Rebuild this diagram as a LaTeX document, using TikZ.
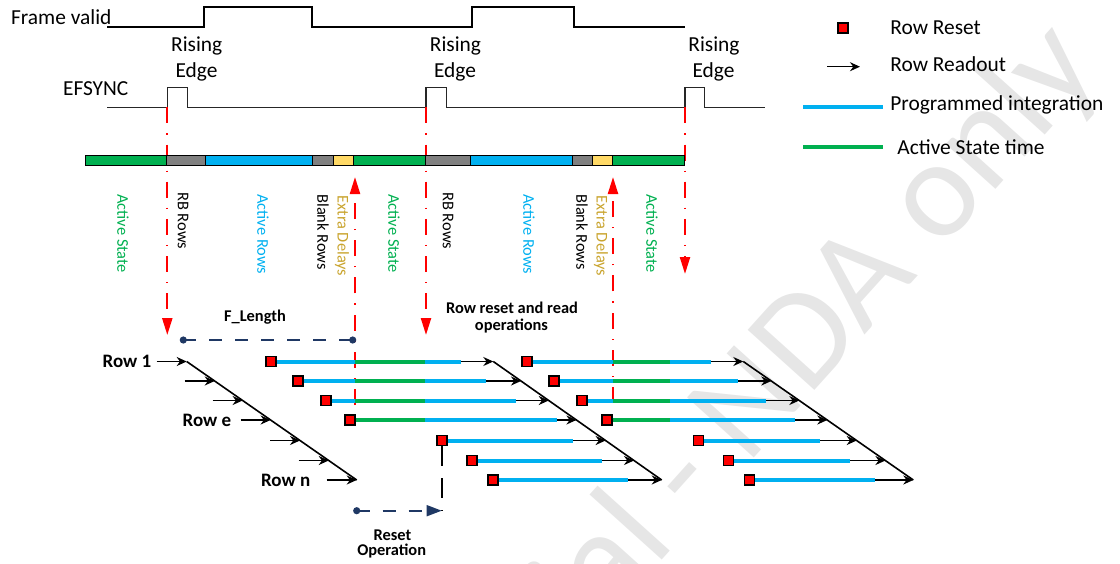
\documentclass[tikz,border=0pt]{standalone}
\usepackage{fontspec}
\setmainfont{Carlito}
\usetikzlibrary{arrows.meta,positioning}

\definecolor{actgreen}{HTML}{00B050}
\definecolor{intblue}{HTML}{00B0F0}
\definecolor{rbgray}{HTML}{808080}
\definecolor{delayyellow}{HTML}{FFD966}
\definecolor{delaytext}{HTML}{C9A42E}
\definecolor{navy}{HTML}{1F3864}
\definecolor{wmgray}{HTML}{E6E6E6}

\tikzset{
  sig/.style={line width=1pt},
  efsig/.style={line width=0.7pt, black!85},
  seg/.style={draw=black, line width=0.4pt},
  redline/.style={red, line width=1.1pt, dash pattern=on 8pt off 5pt on 0.6pt off 5pt,
    -{Triangle[length=8.5pt,width=5pt]}},
  vlabel/.style={rotate=-90, anchor=west, inner sep=0pt, font=\fontsize{8.2}{9}\selectfont},
  rst/.style={draw=black, fill=red, line width=0.8pt, minimum size=5pt, inner sep=0pt},
  integ/.style={intblue, line width=2pt},
  active/.style={actgreen, line width=2pt},
  rdout/.style={line width=0.7pt, -{Stealth[length=5pt,width=4.5pt]}},
  stair/.style={line width=0.8pt},
  txt/.style={font=\fontsize{10.7}{12}\selectfont, inner sep=0pt},
  boldlab/.style={font=\bfseries\fontsize{8.2}{9.5}\selectfont, inner sep=0pt},
  rowlab/.style={font=\bfseries\fontsize{9.5}{11}\selectfont, inner sep=0pt},
  navydash/.style={navy, line width=0.8pt, dash pattern=on 6.5pt off 6.5pt},
}

\begin{document}
\begin{tikzpicture}[x=0.5pt,y=-0.5pt]
  \useasboundingbox (0,0) rectangle (1120,563);
  % watermark
  \begin{scope}
    \clip (0,0) rectangle (1120,563);
    \node[text=wmgray, font=\fontsize{70}{70}\selectfont, rotate=48] (wm) at (632,538) {Confidential - NDA only};
  \end{scope}

  % signals
  \node[txt, anchor=base west] (fv) at (10.7,24) {Frame valid};
  \draw[sig] (107,27.3) -- (204.3,27.3) -- (204.3,7.3) -- (312.3,7.3) -- (312.3,27.3)
    -- (472.3,27.3) -- (472.3,7.3) -- (574.3,7.3) -- (574.3,27.3) -- (685.3,27.3);
  \node[txt, anchor=base west] (efs) at (62.7,95) {EFSYNC};
  \draw[efsig] (107,107.3) -- (167.3,107.3) -- (167.3,87.3) -- (187.3,87.3) -- (187.3,107.3)
    -- (426,107.3) -- (426,87.3) -- (446.7,87.3) -- (446.7,107.3)
    -- (685,107.3) -- (685,87.3) -- (704.3,87.3) -- (704.3,107.3) -- (765,107.3);
  \coordinate (ef1) at (167.3,107.3);
  \coordinate (ef2) at (426,107.3);
  \coordinate (ef3) at (685,107.3);
  \node[txt, anchor=base] (ris1) at (196.7,51.7) {Rising};
  \node[txt, anchor=base] (edg1) at (196.5,77.3) {Edge};
  \node[txt, anchor=base] (ris2) at (455.5,51.7) {Rising};
  \node[txt, anchor=base] (edg2) at (455,77.3) {Edge};
  \node[txt, anchor=base] (ris3) at (714,51.7) {Rising};
  \node[txt, anchor=base] (edg3) at (713.5,77.3) {Edge};

  % red markers
  \coordinate (fr1) at (167.3,335);
  \coordinate (fr2) at (426,335);
  \coordinate (fr3) at (685,274);
  \draw[redline] (ef1) -- (fr1);
  \draw[redline] (ef2) -- (fr2);
  \draw[redline] (ef3) -- (fr3);
  \coordinate (xd1) at (355,405);
  \coordinate (xd2) at (613,403);
  \draw[redline] (xd1) -- (355,177);
  \draw[redline] (xd2) -- (613,177);

  % frame bar
  \filldraw[seg, fill=actgreen] (85.7,155.7) rectangle (166,165.7);
  \filldraw[seg, fill=rbgray] (166,155.7) rectangle (205,165.7);
  \filldraw[seg, fill=intblue] (205,155.7) rectangle (312.3,165.7);
  \filldraw[seg, fill=rbgray] (312.3,155.7) rectangle (333.3,165.7);
  \filldraw[seg, fill=delayyellow] (333.3,155.7) rectangle (353.3,165.7);
  \filldraw[seg, fill=actgreen] (353.3,155.7) rectangle (425.7,165.7);
  \filldraw[seg, fill=rbgray] (425.7,155.7) rectangle (470,165.7);
  \filldraw[seg, fill=intblue] (470,155.7) rectangle (572.7,165.7);
  \filldraw[seg, fill=rbgray] (572.7,155.7) rectangle (592.3,165.7);
  \filldraw[seg, fill=delayyellow] (592.3,155.7) rectangle (612.3,165.7);
  \filldraw[seg, fill=actgreen] (612.3,155.7) rectangle (684,165.7);

  \node[vlabel, text=actgreen] (as1) at (123,194) {Active State};
  \node[vlabel] (rb1) at (183,192) {RB Rows};
  \node[vlabel, text=intblue] (ar1) at (263,194) {Active Rows};
  \node[vlabel] (bl1) at (323,194) {Blank Rows};
  \node[vlabel, text=delaytext] (ex1) at (342,195) {Extra Delays};
  \node[vlabel, text=actgreen] (as2) at (394,194) {Active State};
  \node[vlabel] (rb2) at (448,192) {RB Rows};
  \node[vlabel, text=intblue] (ar2) at (529,194) {Active Rows};
  \node[vlabel] (bl2) at (582,194) {Blank Rows};
  \node[vlabel, text=delaytext] (ex2) at (601,195) {Extra Delays};
  \node[vlabel, text=actgreen] (as3) at (652,194) {Active State};

  % legend
  \node[rst] (lgrst) at (843,27.7) {};
  \node[txt, anchor=base west] (lgrsttxt) at (890,34.3) {Row Reset};
  \coordinate (lgro1) at (827,66.7);
  \coordinate (lgro2) at (860,66.7);
  \draw[rdout] (lgro1) -- (lgro2);
  \node[txt, anchor=base west] (lgrotxt) at (890,71.7) {Row Readout};
  \draw[integ] (803,106.7) -- (883,106.7);
  \node[txt, anchor=base west] (lginttxt) at (890,110) {Programmed integration};
  \draw[active] (803,146.7) -- (883,146.7);
  \node[txt, anchor=base west] (lgacttxt) at (897,154) {Active State time};

  % F_Length
  \coordinate (fl1) at (183.3,340);
  \coordinate (fl2) at (352.7,340);
  \draw[navydash] (fl1) -- (fl2);
  \fill[navy] (fl1) circle (1.8pt);
  \fill[navy] (fl2) circle (1.8pt);
  \node[boldlab, anchor=base] (flen) at (255,321.7) {F\_Length};
  \node[boldlab, anchor=base] (rro1) at (512,313.3) {Row reset and read};
  \node[boldlab, anchor=base] (rro2) at (511.5,330) {operations};

  % readout stair
  \coordinate (lt1) at (186.7,361.5);
  \coordinate (lt7) at (356.7,480);
  \draw[stair] (lt1) -- (lt7);
  \coordinate (ls1) at (156.7,361.5);
  \coordinate (ls4) at (240.6,420);
  \coordinate (ls7) at (326.7,480);
  \node[rowlab, left=2.5pt of ls1] (row1) {Row 1};
  \node[rowlab, left=4.5pt of ls4] (rowe) {Row e};
  \node[rowlab, left=8pt of ls7] (rown) {Row n};
  \draw[rdout] (ls1) -- (lt1);
  \draw[rdout] (184.7,381) -- (214.7,381);
  \draw[rdout] (212.6,400.5) -- (242.6,400.5);
  \draw[rdout] (ls4) -- (270.6,420);
  \draw[rdout] (270,440.5) -- (300,440.5);
  \draw[rdout] (298.7,460.5) -- (328.7,460.5);
  \draw[rdout] (ls7) -- (lt7);

  % first frame rows
  \node[rst] (ga1) at (270.7,361.5) {};
  \node[rst] (ga2) at (297.7,381) {};
  \node[rst] (ga3) at (325.7,400.5) {};
  \node[rst] (ga4) at (350,420) {};
  \node[rst] (ga5) at (441.7,440.5) {};
  \node[rst] (ga6) at (471.7,460.5) {};
  \node[rst] (ga7) at (492.7,480) {};
  \coordinate (ta1) at (493.3,361.5);
  \coordinate (ta2) at (521,381);
  \coordinate (ta3) at (548.7,400.5);
  \coordinate (ta4) at (576.4,420);
  \coordinate (ta5) at (605.6,440.5);
  \coordinate (ta6) at (634,460.5);
  \coordinate (ta7) at (661.7,480);
  \draw[integ] (ga1.east) -- (460.7,361.5);
  \draw[integ] (ga2.east) -- (485.7,381);
  \draw[integ] (ga3.east) -- (515.7,400.5);
  \draw[integ] (ga4.east) -- (556.7,420);
  \draw[integ] (ga5.east) -- (573,440.5);
  \draw[integ] (ga6.east) -- (601.7,460.5);
  \draw[integ] (ga7.east) -- (628,480);
  \draw[active] (355.3,361.5) -- (425,361.5);
  \draw[active] (355.3,381) -- (425,381);
  \draw[active] (355.3,400.5) -- (425,400.5);
  \draw[active] (ga4.east) -- (425,420);
  \draw[rdout] (460.7,361.5) -- (ta1);
  \draw[rdout] (485.7,381) -- (ta2);
  \draw[rdout] (515.7,400.5) -- (ta3);
  \draw[rdout] (556.7,420) -- (ta4);
  \draw[rdout] (573,440.5) -- (ta5);
  \draw[rdout] (601.7,460.5) -- (ta6);
  \draw[rdout] (628,480) -- (ta7);
  \draw[stair] (ta1) -- (ta7);

  % second frame rows
  \node[rst] (gb1) at (526.7,361.5) {};
  \node[rst] (gb2) at (554,381) {};
  \node[rst] (gb3) at (581.7,400.5) {};
  \node[rst] (gb4) at (606.7,420) {};
  \node[rst] (gb5) at (698.3,440.5) {};
  \node[rst] (gb6) at (728.3,460.5) {};
  \node[rst] (gb7) at (749.3,480) {};
  \coordinate (tb1) at (743.3,361.5);
  \coordinate (tb2) at (771.3,381);
  \coordinate (tb3) at (799.3,400.5);
  \coordinate (tb4) at (827.3,420);
  \coordinate (tb5) at (856.7,440.5);
  \coordinate (tb6) at (885.4,460.5);
  \coordinate (tb7) at (913.3,480);
  \draw[integ] (gb1.east) -- (710.7,361.5);
  \draw[integ] (gb2.east) -- (738.3,381);
  \draw[integ] (gb3.east) -- (766,400.5);
  \draw[integ] (gb4.east) -- (795,420);
  \draw[integ] (gb5.east) -- (820,440.5);
  \draw[integ] (gb6.east) -- (850,460.5);
  \draw[integ] (gb7.east) -- (875,480);
  \draw[active] (612.7,361.5) -- (670,361.5);
  \draw[active] (612.7,381) -- (670,381);
  \draw[active] (612.7,400.5) -- (670,400.5);
  \draw[active] (gb4.east) -- (670,420);
  \draw[rdout] (710.7,361.5) -- (tb1);
  \draw[rdout] (738.3,381) -- (tb2);
  \draw[rdout] (766,400.5) -- (tb3);
  \draw[rdout] (795,420) -- (tb4);
  \draw[rdout] (820,440.5) -- (tb5);
  \draw[rdout] (850,460.5) -- (tb6);
  \draw[rdout] (875,480) -- (tb7);
  \draw[stair] (tb1) -- (tb7);

  % reset operation
  \coordinate (ro1) at (356.7,510.7);
  \coordinate (ro2) at (441.7,510.7);
  \draw[line width=0.8pt, dash pattern=on 10pt off 6pt] (ga5.south) -- (ro2);
  \draw[navydash, -{Triangle[length=7.5pt,width=5.5pt]}] (ro1) -- (ro2);
  \fill[navy] (ro1) circle (1.8pt);
  \node[boldlab, anchor=base] (rso1) at (392.5,540) {Reset};
  \node[boldlab, anchor=base] (rso2) at (391.7,555) {Operation};
\end{tikzpicture}
\end{document}
